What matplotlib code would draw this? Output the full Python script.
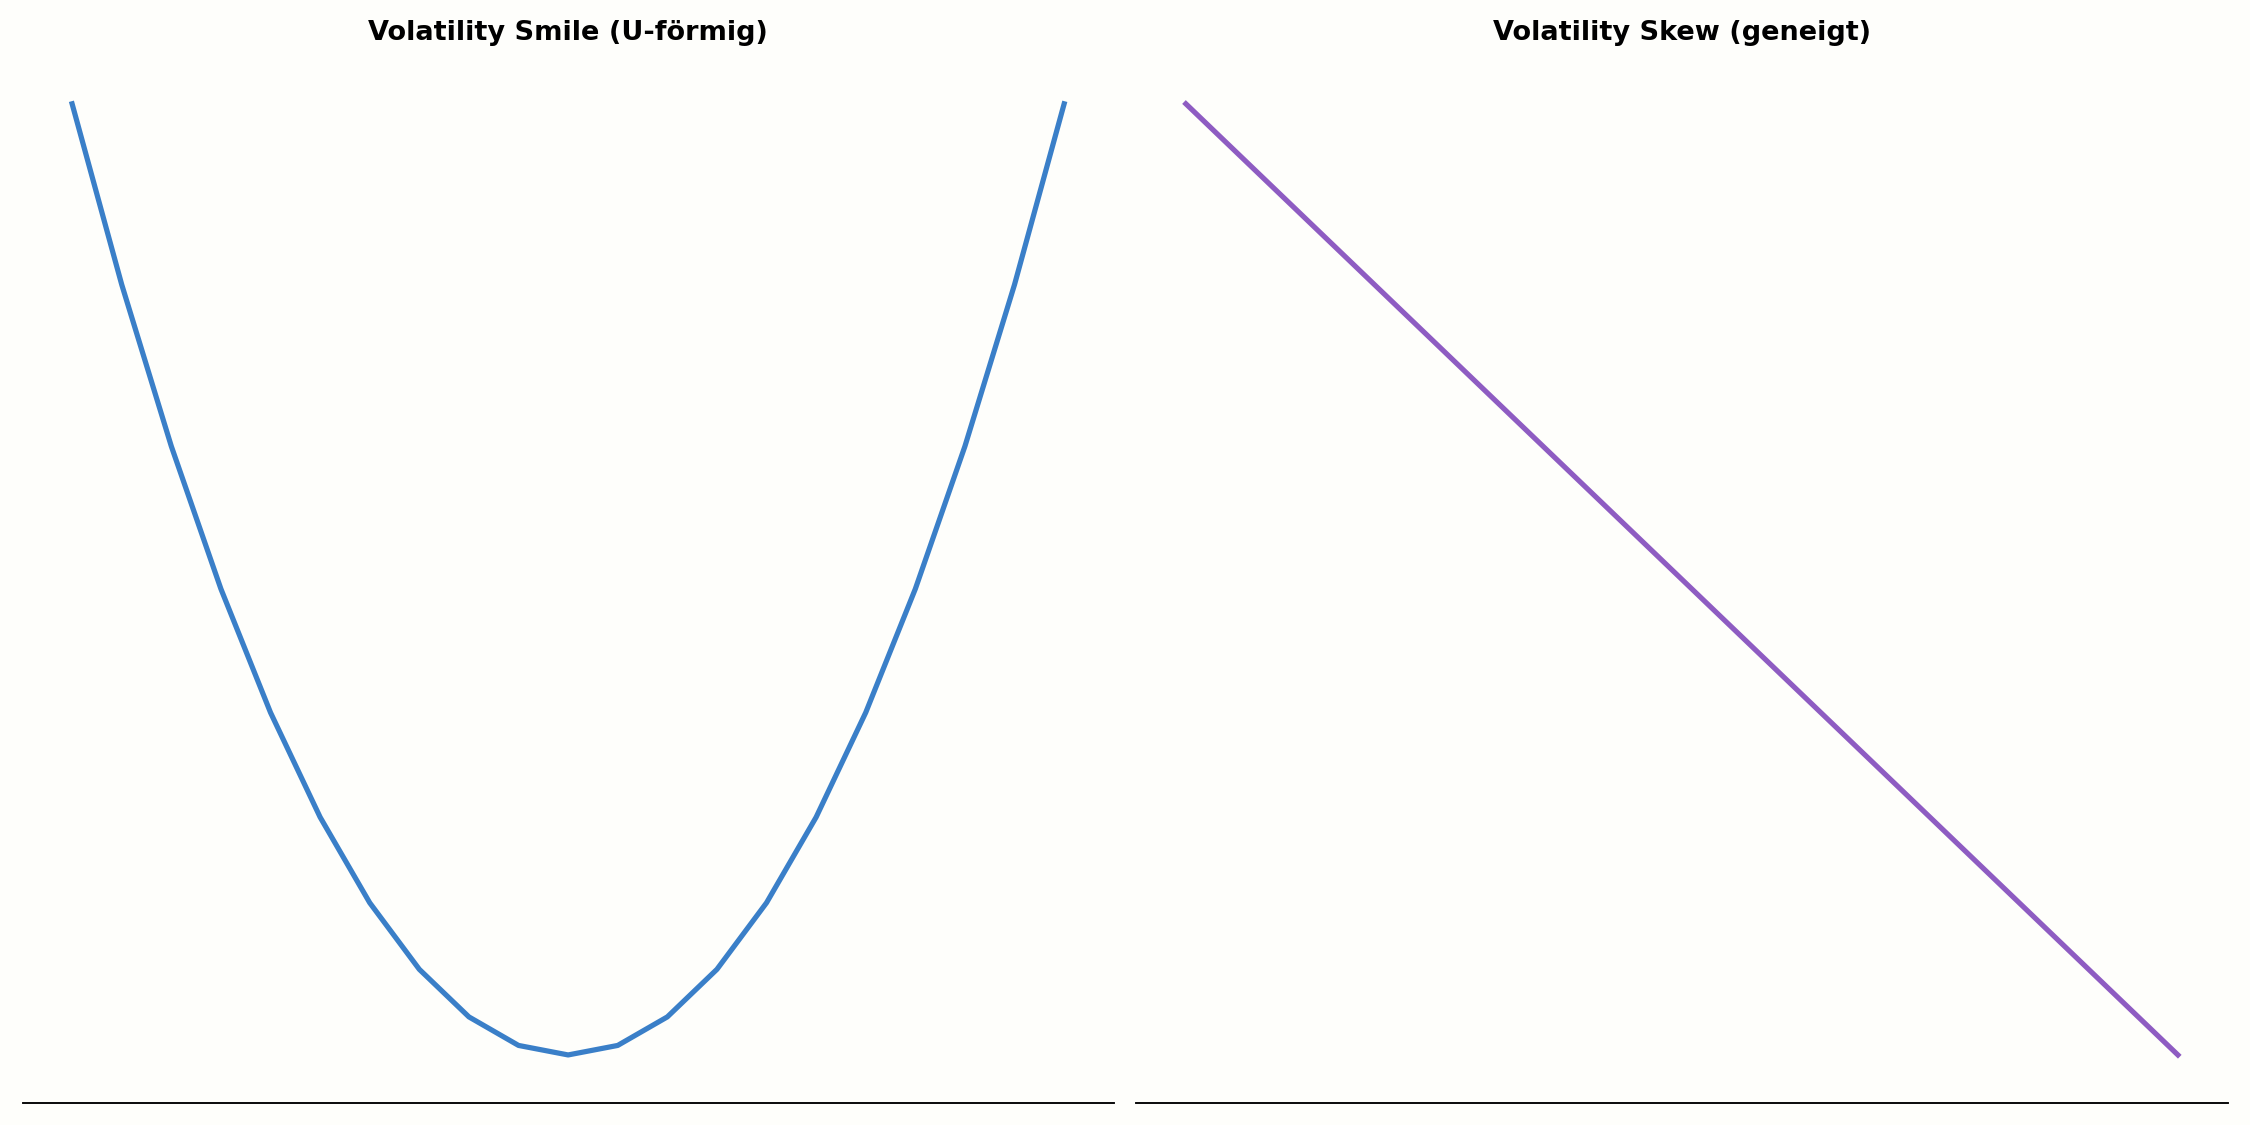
import matplotlib
matplotlib.use("Agg")
import matplotlib.pyplot as plt

# Data
smile_strike = [-1.0, -0.9, -0.8, -0.7, -0.6, -0.5, -0.4, -0.3, -0.2, -0.1, 0.0,
                0.1, 0.2, 0.3, 0.4, 0.5, 0.6, 0.7, 0.8, 0.9, 1.0]
smile_vol = [1.0, 0.81, 0.64, 0.49, 0.36, 0.25, 0.16, 0.09, 0.04, 0.01, 0.0,
             0.01, 0.04, 0.09, 0.16, 0.25, 0.36, 0.49, 0.64, 0.81, 1.0]
skew_strike = [-1.0, 1.0]
skew_vol = [1.0, 0.0]
titles = ["Volatility Smile (U-förmig)", "Volatility Skew (geneigt)"]

bg = "#FEFEFB"
fig = plt.figure(figsize=(15, 7.5), dpi=150, facecolor=bg)
ax1 = fig.add_axes([0.01, 0.02, 0.485, 0.93], facecolor=bg)
ax2 = fig.add_axes([0.505, 0.02, 0.485, 0.93], facecolor=bg)

ax1.plot(smile_strike, smile_vol, color="#3A7FC8", lw=2.5)
ax2.plot(skew_strike, skew_vol, color="#8E5CC2", lw=2.5)

for ax, t in zip([ax1, ax2], titles):
    ax.set_title(t, fontsize=13, fontweight="bold", pad=8)
    ax.set_xticks([]); ax.set_yticks([])
    for s in ["top", "left", "right"]:
        ax.spines[s].set_visible(False)
    ax.spines["bottom"].set_linewidth(0.9)

fig.savefig("out.png", dpi=150, facecolor=bg)
